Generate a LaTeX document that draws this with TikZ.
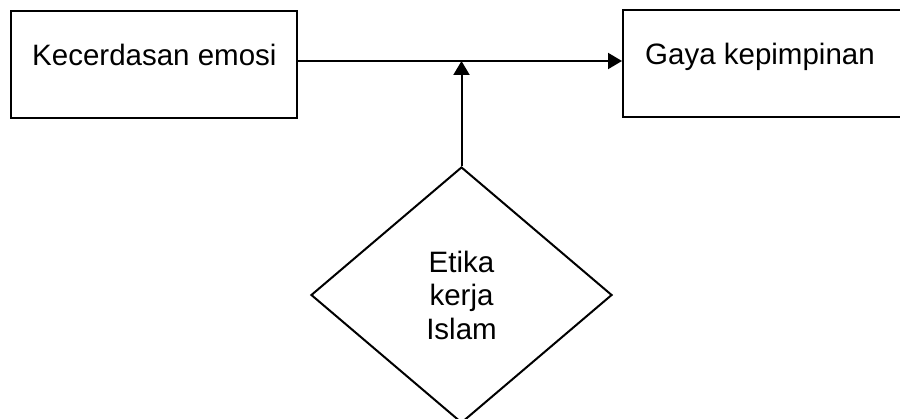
\documentclass[tikz,border=0pt]{standalone}
\usepackage{fontspec}
\setmainfont{Liberation Sans}
\usetikzlibrary{shapes.geometric,arrows.meta}

\tikzset{
	box/.style={draw, line width=2pt, rectangle, inner sep=0pt},
	rhombus/.style={draw, line width=2pt, diamond, inner sep=0pt, align=center,
		minimum width=301pt, minimum height=256pt},
	caption/.style={inner sep=0pt},
	link/.style={line width=2pt, -{Triangle[length=14pt,width=16pt]}}
}

\begin{document}
\begin{tikzpicture}[x=1pt,y=-1pt,font=\fontsize{29.5}{33.5}\selectfont]
	\useasboundingbox (0,0) rectangle (900,419);

	% Kecerdasan emosi box
	\node[box, minimum width=286pt, minimum height=107pt] (kecerdasan) at (154,64.5) {};
	\node[caption, anchor=base west] (kecerdasanText) at (32,65.5) {Kecerdasan emosi};

	% Gaya kepimpinan box
	\node[box, minimum width=287pt, minimum height=107pt] (gaya) at (766.5,63.5) {};
	\node[caption, anchor=base west] (gayaText) at (645,65) {Gaya kepimpinan};

	% Etika kerja Islam diamond
	\node[rhombus] (etika) at (461.5,295) {Etika\\kerja\\Islam};

	% Relationships
	\coordinate (junction) at (461.5,61);
	\draw[link] (kecerdasan.east |- junction) -- (gaya.west |- junction);
	\draw[link] (etika.north) -- (junction);
\end{tikzpicture}
\end{document}
